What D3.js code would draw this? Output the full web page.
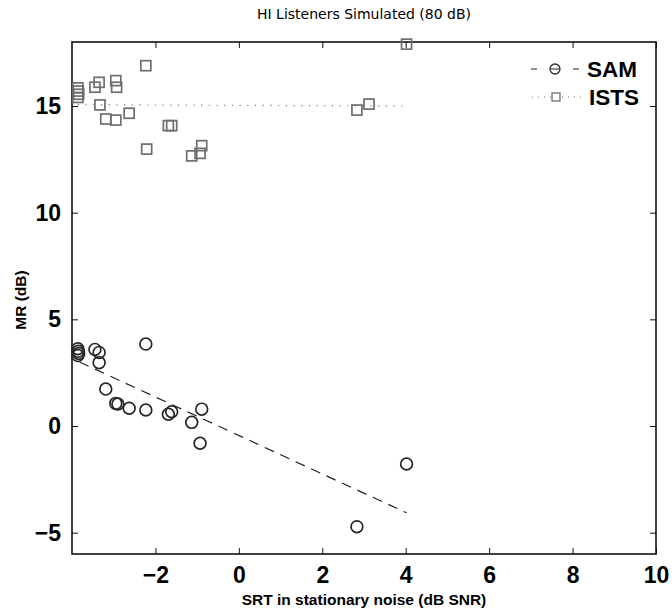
<!DOCTYPE html>
<html>
<head>
<meta charset="utf-8">
<script src="https://cdn.jsdelivr.net/npm/d3@7"></script>
<style>
  body { margin: 0; background: #fff; }
  svg { display: block; }
</style>
</head>
<body>
<div id="chart"></div>
<script>
// ---- data ----
const samX = [-3.86, -3.85, -3.84, -3.86, -3.45, -3.35, -3.35, -3.19, -2.95, -2.90, -2.63, -2.23, -2.23, -1.69, -1.61, -1.13, -0.89, -0.93, 2.83, 4.02];
const samY = [3.62, 3.50, 3.40, 3.30, 3.59, 3.45, 2.97, 1.73, 1.06, 1.03, 0.83, 3.84, 0.75, 0.55, 0.67, 0.17, 0.79, -0.81, -4.72, -1.78];
const istsX = [-3.86, -3.85, -3.84, -3.86, -3.45, -3.35, -3.33, -3.19, -2.95, -2.93, -2.95, -2.63, -2.23, -2.21, -1.69, -1.61, -1.13, -0.93, -0.89, 2.83, 3.12, 4.02];
const istsY = [15.85, 15.70, 15.55, 15.40, 15.88, 16.11, 15.05, 14.39, 16.19, 15.88, 14.34, 14.66, 16.89, 12.98, 14.08, 14.08, 12.66, 12.78, 13.14, 14.81, 15.09, 17.90];
const samFitX = [-3.82, 4.02];
const samFitY = [3.00, -4.07];
const istsFitX = [-3.86, 4.02];
const istsFitY = [15.06, 15.00];
const xTicks = [-2, 0, 2, 4, 6, 8, 10];
const yTicks = [-5, 0, 5, 10, 15];
const seriesNames = ["SAM", "ISTS"];
const titleText = "HI Listeners Simulated (80 dB)";
const xLabelText = "SRT in stationary noise (dB SNR)";
const yLabelText = "MR (dB)";

// ---- layout ----
const W = 672, H = 612;
const m = { left: 72, top: 42, right: 16, bottom: 58 };
const pw = W - m.left - m.right, ph = H - m.top - m.bottom;

const svg = d3.select("#chart").append("svg").attr("width", W).attr("height", H);
const x = d3.scaleLinear().domain([-4, 10]).range([m.left, m.left + pw]);
const y = d3.scaleLinear().domain([-6, 18]).range([m.top + ph, m.top]);

const fmt = d => (d < 0 ? "\u2212" + Math.abs(d) : String(d));
const tickFont = "'Liberation Sans', Arial, sans-serif";

// axes (ticks inside)
const axB = svg.append("g").attr("transform", `translate(0,${m.top + ph})`)
  .call(d3.axisBottom(x).tickValues(xTicks).tickSizeInner(-6).tickSizeOuter(0).tickPadding(13).tickFormat(fmt));
const axT = svg.append("g").attr("transform", `translate(0,${m.top})`)
  .call(d3.axisTop(x).tickValues(xTicks).tickSizeInner(-6).tickSizeOuter(0).tickFormat(""));
const axL = svg.append("g").attr("transform", `translate(${m.left},0)`)
  .call(d3.axisLeft(y).tickValues(yTicks).tickSizeInner(-6).tickSizeOuter(0).tickPadding(11).tickFormat(fmt));
const axR = svg.append("g").attr("transform", `translate(${m.left + pw},0)`)
  .call(d3.axisRight(y).tickValues(yTicks).tickSizeInner(-6).tickSizeOuter(0).tickFormat(""));
[axB, axT, axL, axR].forEach(g => {
  g.select(".domain").remove();
  g.selectAll(".tick line").attr("stroke", "#111").attr("stroke-width", 1);
  g.selectAll(".tick text").attr("font-family", tickFont).attr("font-weight", "bold")
    .attr("font-size", 23).attr("fill", "#000");
});
svg.append("rect").attr("x", m.left).attr("y", m.top).attr("width", pw).attr("height", ph)
  .attr("fill", "none").attr("stroke", "#111").attr("stroke-width", 1.6);

// fit lines
const line = d3.line().x(d => x(d[0])).y(d => y(d[1]));
svg.append("path").datum(d3.zip(samFitX, samFitY)).attr("d", line)
  .attr("fill", "none").attr("stroke", "#222").attr("stroke-width", 1.2).attr("stroke-dasharray", "10,7");
svg.append("path").datum(d3.zip(istsFitX, istsFitY)).attr("d", line)
  .attr("fill", "none").attr("stroke", "#777").attr("stroke-width", 1.2).attr("stroke-dasharray", "1.2,6.5");

// markers
svg.append("g").selectAll("circle").data(d3.zip(samX, samY)).join("circle")
  .attr("cx", d => x(d[0])).attr("cy", d => y(d[1])).attr("r", 5.9)
  .attr("fill", "none").attr("stroke", "#262626").attr("stroke-width", 1.7);
const s = 10;
svg.append("g").selectAll("rect").data(d3.zip(istsX, istsY)).join("rect")
  .attr("x", d => x(d[0]) - s / 2).attr("y", d => y(d[1]) - s / 2).attr("width", s).attr("height", s)
  .attr("fill", "none").attr("stroke", "#6e6e6e").attr("stroke-width", 1.7);

// legend
const lg = svg.append("g");
const ly1 = 69, ly2 = 97;
lg.append("line").attr("x1", 531).attr("x2", 579).attr("y1", ly1).attr("y2", ly1)
  .attr("stroke", "#222").attr("stroke-width", 1.2).attr("stroke-dasharray", "6,13,10,13,6");
lg.append("circle").attr("cx", 555).attr("cy", ly1).attr("r", 5)
  .attr("fill", "none").attr("stroke", "#2a2a2a").attr("stroke-width", 1.3);
lg.append("line").attr("x1", 532).attr("x2", 582).attr("y1", ly2).attr("y2", ly2)
  .attr("stroke", "#777").attr("stroke-width", 1.2).attr("stroke-dasharray", "1,5");
lg.append("rect").attr("x", 552).attr("y", ly2 - 4).attr("width", 8).attr("height", 8)
  .attr("fill", "#fff").attr("stroke", "#6e6e6e").attr("stroke-width", 1.3);
lg.append("text").attr("x", 587).attr("y", ly1).attr("dy", "0.36em").text(seriesNames[0])
  .attr("font-family", tickFont).attr("font-weight", "bold").attr("font-size", 22.5);
lg.append("text").attr("x", 589).attr("y", ly2).attr("dy", "0.36em").text(seriesNames[1])
  .attr("font-family", tickFont).attr("font-weight", "bold").attr("font-size", 22.5);

// titles
svg.append("text").attr("x", m.left + pw / 2).attr("y", 19).attr("text-anchor", "middle")
  .attr("font-family", "'DejaVu Sans', sans-serif").attr("font-size", 14).text(titleText);
svg.append("text").attr("x", m.left + pw / 2).attr("y", 605).attr("text-anchor", "middle")
  .attr("font-family", tickFont).attr("font-weight", "bold").attr("font-size", 15.5).text(xLabelText);
svg.append("text").attr("transform", `translate(26,${m.top + ph / 2 + 2}) rotate(-90)`).attr("text-anchor", "middle")
  .attr("font-family", tickFont).attr("font-weight", "bold").attr("font-size", 15.5).text(yLabelText);
</script>
</body>
</html>
